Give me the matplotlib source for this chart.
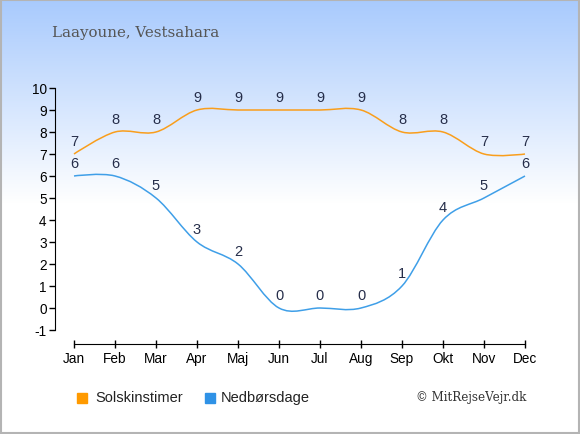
import numpy as np
import matplotlib
matplotlib.use("Agg")
import matplotlib.pyplot as plt
from matplotlib.path import Path
from matplotlib.patches import PathPatch, Rectangle
from matplotlib.colors import LinearSegmentedColormap

## data
months = ["Jan", "Feb", "Mar", "Apr", "Maj", "Jun", "Jul", "Aug", "Sep", "Okt", "Nov", "Dec"]
sol = [7, 8, 8, 9, 9, 9, 9, 9, 8, 8, 7, 7]
regn = [6, 6, 5, 3, 2, 0, 0, 0, 1, 4, 5, 6]
title = "Laayoune, Vestsahara"

c_sol = "#f99e1c"
c_regn = "#3f9fe8"
c_text = "#262e4a"

plt.rcParams['font.family'] = ['Liberation Sans', 'DejaVu Sans']
plt.rcParams['axes.unicode_minus'] = False

fig = plt.figure(figsize=(5.8, 4.35), dpi=100)

## background gradient + border
bg = fig.add_axes([0, 0, 1, 1], zorder=-10)
bg.set_axis_off()
cmap = LinearSegmentedColormap.from_list("bg", ["#a8cafd", "#ffffff"])
grad = np.linspace(0, 1, 435)
grad = np.clip(grad / 0.47, 0, 1)
bg.imshow(grad.reshape(-1, 1), aspect="auto", cmap=cmap, extent=[0, 1, 0, 1], vmin=0, vmax=1)
bg.set_xlim(0, 1)
bg.set_ylim(0, 1)
bg.add_patch(Rectangle((0.001, 0.002), 0.997, 0.995, fill=False, ec="#b4b4b4", lw=1.5))


def spline_path(xs, ys):
    # catmull-rom style cubic bezier through the points
    n = len(xs)
    verts = [(xs[0], ys[0])]
    codes = [Path.MOVETO]
    tang = []
    for i in range(n):
        if i == 0 or i == n - 1:
            tang.append(None)
        else:
            tang.append(((xs[i + 1] - xs[i - 1]) / 2.0, (ys[i + 1] - ys[i - 1]) / 2.0))
    for i in range(n - 1):
        if tang[i] is None:
            c1 = (xs[i], ys[i])
        else:
            c1 = (xs[i] + tang[i][0] / 3, ys[i] + tang[i][1] / 3)
        if tang[i + 1] is None:
            c2 = (xs[i + 1], ys[i + 1])
        else:
            c2 = (xs[i + 1] - tang[i + 1][0] / 3, ys[i + 1] - tang[i + 1][1] / 3)
        verts += [c1, c2, (xs[i + 1], ys[i + 1])]
        codes += [Path.CURVE4] * 3
    return Path(verts, codes)


left = 55 / 580
right = 525 / 580
bottom = (435 - 331) / 435
top = (435 - 89) / 435
ax = fig.add_axes([left, bottom, right - left, top - bottom])
ax.patch.set_alpha(0)

x = list(range(len(months)))
ax.set_xlim(-19 / 41, 11)
ax.set_ylim(-1, 10)

for vals, col in [(sol, c_sol), (regn, c_regn)]:
    ax.add_patch(PathPatch(spline_path(x, vals), fill=False, ec=col, lw=1.1, clip_on=False))
    for xi, v in zip(x, vals):
        ax.annotate(str(v), (xi, v), xytext=(0, 9.5), textcoords="offset points",
                    ha="center", va="center", fontsize=10.5, color=c_text)

for s in ["top", "right"]:
    ax.spines[s].set_visible(False)
ax.spines["left"].set_bounds(-1, 10)
ax.spines["bottom"].set_position(("outward", 10))
ax.spines["bottom"].set_bounds(0, 11)
ax.set_yticks(range(-1, 11))
ax.set_xticks(x)
ax.set_xticklabels(months)
ax.tick_params(axis="y", direction="out", length=4, width=1, labelsize=9.8, colors="black", pad=2)
ax.tick_params(axis="x", direction="inout", length=6, width=1, labelsize=9.8, colors="black", pad=2)

## title
fig.text(52 / 580, 1 - 33 / 435, title, family="DejaVu Serif", fontsize=10.8,
         color="#555555", ha="left", va="center")

## legend
ly = 1 - 398 / 435
fig.patches.append(Rectangle((77 / 580, 1 - 404 / 435), 10 / 580, 10 / 435,
                             transform=fig.transFigure, color="#ff9a00", figure=fig))
fig.text(95 / 580, ly, "Solskinstimer", fontsize=10.5, color="#222222", ha="left", va="center")
fig.patches.append(Rectangle((205 / 580, 1 - 404 / 435), 10 / 580, 10 / 435,
                             transform=fig.transFigure, color="#2f92e6", figure=fig))
fig.text(221 / 580, ly, "Nedbørsdage", fontsize=10.5, color="#222222", ha="left", va="center")
fig.text(526 / 580, ly, "© MitRejseVejr.dk", family="DejaVu Serif", fontsize=8.6,
         color="#333333", ha="right", va="center")

fig.savefig("out.png", dpi=100)
